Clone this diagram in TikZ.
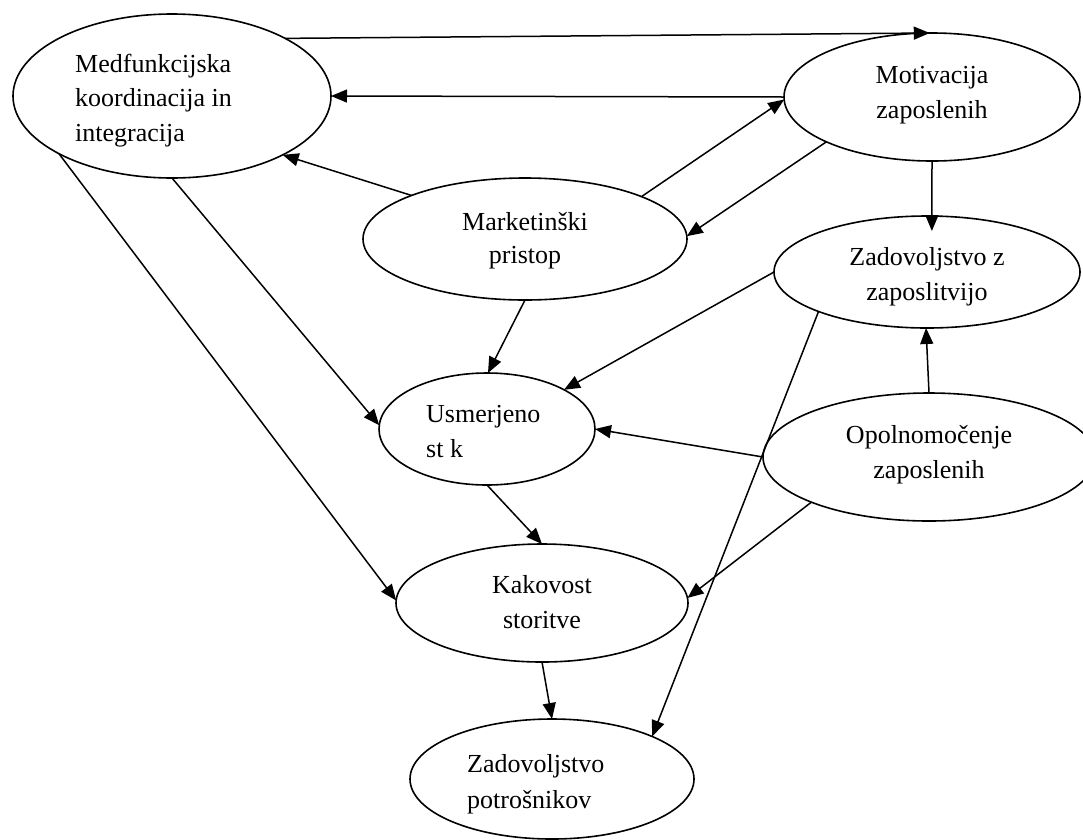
\documentclass[tikz,border=0pt]{standalone}
\usepackage{fontspec}
\setmainfont{Liberation Serif}
\usetikzlibrary{shapes.geometric,arrows.meta}
\begin{document}
\begin{tikzpicture}[x=1pt,y=-1pt,
  oval/.style={draw,ellipse,line width=1.6pt,inner sep=0pt,outer sep=0pt},
  lbl/.style={font=\fontsize{26}{35}\selectfont,inner sep=0pt,anchor=base},
  lblw/.style={lbl,anchor=base west},
  link/.style={line width=1.5pt,-{Triangle[length=16pt,width=13pt]}}]
\clip (0,0) rectangle (1083,839);

% ellipses
\node[oval,minimum width=318pt,minimum height=164pt] (medf)   at (172,96)  {};
\node[oval,minimum width=296pt,minimum height=128pt] (motiv)  at (932,97)  {};
\node[oval,minimum width=324pt,minimum height=122pt] (market) at (525,239) {};
\node[oval,minimum width=306pt,minimum height=112pt] (zadzap) at (927,272) {};
\node[oval,minimum width=216pt,minimum height=112pt] (usm)    at (487,429) {};
\node[oval,minimum width=332pt,minimum height=128pt] (opol)   at (929,457) {};
\node[oval,minimum width=292pt,minimum height=118pt] (kak)    at (542,603) {};
\node[oval,minimum width=284pt,minimum height=120pt] (zadpot) at (552,779) {};

% labels
\node[lblw] (t1a) at (75,72)    {Medfunkcijska};
\node[lblw] (t1b) at (75,106.5) {koordinacija in};
\node[lblw] (t1c) at (75,141)   {integracija};
\node[lbl]  (t2a) at (932,83)   {Motivacija};
\node[lbl]  (t2b) at (932,118)  {zaposlenih};
\node[lbl]  (t3a) at (525,230)  {Marketinški};
\node[lbl]  (t3b) at (525,263)  {pristop};
\node[lbl]  (t4a) at (927,265)  {Zadovoljstvo z};
\node[lbl]  (t4b) at (927,300)  {zaposlitvijo};
\node[lblw] (t5a) at (426,422)  {Usmerjeno};
\node[lblw] (t5b) at (426,457)  {st k};
\node[lbl]  (t6a) at (929,443)  {Opolnomočenje};
\node[lbl]  (t6b) at (929,478)  {zaposlenih};
\node[lbl]  (t7a) at (542,593)  {Kakovost};
\node[lbl]  (t7b) at (542,628)  {storitve};
\node[lblw] (t8a) at (467,772)  {Zadovoljstvo};
\node[lblw] (t8b) at (467,808)  {potrošnikov};

% connectors
\draw[link] (medf.27.6)    -- (motiv.92);
\draw[link] (motiv.180)    -- (medf.0);
\draw[link] (market.159)   -- (medf.332.4);
\draw[link] (market.20.6)  -- (motiv.181);
\draw[link] (motiv.203.7)  -- (market.1);
\draw[link,shorten >=-15pt] (motiv.270) -- (zadzap.85);
\draw[link] (opol.90)      -- (zadzap.269);
\draw[link] (zadzap.180)   -- (usm.27.5);
\draw[link] (zadzap.200.6) -- (zadpot.23.1);
\draw[link] (opol.180)     -- (usm.0);
\draw[link] (opol.201.9)   -- (kak.2);
\draw[link] (market.270)   -- (usm.89);
\draw[link] (medf.270)     -- (usm.178);
\draw[link] (medf.207.8)   -- (kak.179);
\draw[link] (usm.270)      -- (kak.90);
\draw[link] (kak.270)      -- (zadpot.90);
\end{tikzpicture}
\end{document}
